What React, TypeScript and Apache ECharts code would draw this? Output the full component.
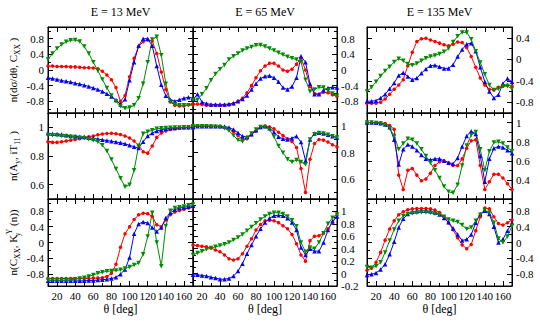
import React, { useEffect, useRef } from 'react';
import * as echarts from 'echarts';

const THETA = [10, 15, 20, 25, 30, 35, 40, 45, 50, 55, 60, 65, 70, 75, 80, 85, 90, 95, 100, 105, 110, 115, 120, 125, 130, 135, 140, 145, 150, 155, 160, 165, 170];

// Row 1: n(dσ/dθ, Cxx)
const R1C1_RED = [0.10, 0.10, 0.09, 0.09, 0.09, 0.08, 0.08, 0.07, 0.06, 0.06, 0.05, 0.03, -0.03, -0.13, -0.25, -0.45, -0.8, -0.65, -0.17, 0.3, 0.6, 0.72, 0.77, 0.74, 0.42, -0.05, -0.5, -0.82, -0.9, -0.92, -0.92, -0.89, -0.87];
const R1C1_BLUE = [-0.2, -0.22, -0.24, -0.27, -0.29, -0.31, -0.34, -0.36, -0.39, -0.42, -0.46, -0.5, -0.55, -0.61, -0.68, -0.77, -0.88, -0.75, -0.26, 0.2, 0.62, 0.8, 0.8, 0.62, 0.1, -0.38, -0.66, -0.76, -0.8, -0.76, -0.72, -0.7, -0.72];
const R1C1_GREEN = [0.27, 0.42, 0.55, 0.65, 0.72, 0.76, 0.77, 0.73, 0.6, 0.42, 0.2, -0.02, -0.24, -0.46, -0.65, -0.8, -0.93, -0.98, -0.96, -0.9, -0.72, -0.35, 0.2, 0.78, 0.85, 0.38, -0.35, -0.8, -0.88, -0.9, -0.9, -0.9, -0.9];

const R1C2_RED = [-0.88, -0.87, -0.88, -0.9, -0.9, -0.9, -0.9, -0.9, -0.89, -0.86, -0.8, -0.72, -0.58, -0.4, -0.2, -0.02, 0.1, 0.17, 0.17, 0.1, 0.0, -0.03, 0.02, 0.15, 0.3, 0.0, -0.42, -0.6, -0.62, -0.57, -0.58, -0.63, -0.68];
const R1C2_BLUE = [-0.75, -0.62, -0.82, -0.86, -0.88, -0.88, -0.88, -0.88, -0.87, -0.85, -0.8, -0.74, -0.65, -0.5, -0.35, -0.22, -0.16, -0.15, -0.2, -0.3, -0.45, -0.5, -0.42, -0.2, 0.35, 0.2, -0.35, -0.62, -0.62, -0.52, -0.46, -0.44, -0.45];
const R1C2_GREEN = [-0.77, -0.76, -0.62, -0.47, -0.26, -0.1, 0.02, 0.13, 0.27, 0.35, 0.42, 0.5, 0.55, 0.59, 0.63, 0.64, 0.6, 0.55, 0.5, 0.44, 0.39, 0.34, 0.3, 0.27, 0.21, -0.25, -0.55, -0.5, -0.44, -0.45, -0.52, -0.6, -0.66];

const R1C3_RED = [-0.82, -0.82, -0.82, -0.8, -0.74, -0.65, -0.56, -0.48, -0.38, -0.12, 0.13, 0.33, 0.38, 0.39, 0.36, 0.33, 0.3, 0.27, 0.25, 0.28, 0.32, 0.31, 0.22, 0.05, -0.15, -0.35, -0.48, -0.56, -0.57, -0.52, -0.5, -0.48, -0.5];
const R1C3_BLUE = [-0.78, -0.78, -0.77, -0.72, -0.65, -0.55, -0.44, -0.3, -0.25, -0.32, -0.38, -0.35, -0.26, -0.18, -0.12, -0.11, -0.14, -0.17, -0.17, -0.1, 0.05, 0.18, 0.28, 0.3, 0.15, -0.15, -0.42, -0.6, -0.72, -0.66, -0.45, -0.36, -0.42];
const R1C3_GREEN = [-0.6, -0.52, -0.42, -0.31, -0.22, -0.14, -0.05, 0.01, -0.03, -0.09, -0.11, -0.08, -0.03, 0.02, 0.05, 0.07, 0.1, 0.14, 0.2, 0.32, 0.43, 0.5, 0.5, 0.37, 0.15, -0.06, -0.28, -0.48, -0.57, -0.55, -0.5, -0.5, -0.55];

// Row 2: n(Ay, iT11)
const R2C1_RED = [0.9, 0.895, 0.895, 0.9, 0.905, 0.91, 0.915, 0.92, 0.93, 0.935, 0.94, 0.948, 0.953, 0.957, 0.958, 0.955, 0.95, 0.94, 0.925, 0.905, 0.875, 0.83, 0.82, 0.87, 0.93, 0.96, 0.975, 0.985, 0.99, 0.995, 0.997, 0.998, 0.998];
const R2C1_BLUE = [0.958, 0.955, 0.953, 0.95, 0.945, 0.94, 0.937, 0.935, 0.932, 0.928, 0.923, 0.918, 0.913, 0.908, 0.903, 0.898, 0.892, 0.885, 0.875, 0.865, 0.855, 0.9, 0.94, 0.96, 0.975, 0.983, 0.99, 0.993, 0.996, 0.998, 1.0, 1.0, 1.0];
const R2C1_GREEN = [0.947, 0.945, 0.943, 0.94, 0.937, 0.935, 0.932, 0.928, 0.923, 0.917, 0.91, 0.9, 0.875, 0.835, 0.775, 0.71, 0.645, 0.585, 0.6, 0.7, 0.87, 0.955, 0.97, 0.98, 0.99, 0.993, 0.995, 0.997, 0.998, 0.999, 1.0, 1.0, 1.0];

const R2C2_RED = [1.0, 1.0, 1.0, 1.0, 1.0, 1.0, 0.998, 0.99, 0.98, 0.96, 0.93, 0.9, 0.905, 0.935, 0.965, 0.99, 1.0, 0.995, 0.98, 0.955, 0.93, 0.905, 0.885, 0.84, 0.68, 0.5, 0.75, 0.87, 0.9, 0.895, 0.88, 0.86, 0.845];
const R2C2_BLUE = [1.0, 1.0, 1.0, 1.0, 1.0, 1.0, 1.0, 0.998, 0.99, 0.975, 0.95, 0.925, 0.92, 0.94, 0.97, 0.995, 1.0, 0.985, 0.955, 0.92, 0.905, 0.9, 0.91, 0.925, 0.88, 0.74, 0.9, 0.945, 0.95, 0.945, 0.935, 0.925, 0.915];
const R2C2_GREEN = [1.0, 1.0, 1.0, 1.0, 0.998, 0.997, 0.995, 0.985, 0.965, 0.93, 0.895, 0.885, 0.91, 0.945, 0.975, 0.995, 0.995, 0.975, 0.92, 0.85, 0.8, 0.75, 0.73, 0.745, 0.73, 0.71, 0.9, 0.94, 0.948, 0.945, 0.935, 0.925, 0.915];

const R2C3_RED = [1.0, 1.0, 0.998, 0.995, 0.99, 0.97, 0.93, 0.45, 0.3, 0.5, 0.52, 0.45, 0.39, 0.41, 0.47, 0.55, 0.59, 0.6, 0.58, 0.55, 0.55, 0.62, 0.73, 0.81, 0.82, 0.55, 0.3, 0.38, 0.46, 0.46, 0.42, 0.36, 0.3];
const R2C3_BLUE = [1.0, 1.0, 0.998, 0.993, 0.98, 0.95, 0.82, 0.56, 0.72, 0.77, 0.75, 0.71, 0.66, 0.62, 0.61, 0.62, 0.62, 0.6, 0.58, 0.57, 0.63, 0.75, 0.86, 0.91, 0.88, 0.65, 0.38, 0.62, 0.73, 0.75, 0.74, 0.71, 0.68];
const R2C3_GREEN = [1.0, 1.0, 0.995, 0.99, 0.975, 0.94, 0.86, 0.72, 0.78, 0.83, 0.82, 0.78, 0.72, 0.65, 0.58, 0.5, 0.42, 0.33, 0.275, 0.265, 0.35, 0.55, 0.76, 0.87, 0.9, 0.72, 0.5, 0.7, 0.79, 0.8, 0.78, 0.74, 0.7];

// Row 3: n(Cxx, Ky^Y(n))
const R3C1_RED = [-0.91, -0.91, -0.91, -0.91, -0.91, -0.91, -0.91, -0.91, -0.91, -0.91, -0.9, -0.9, -0.89, -0.86, -0.78, -0.55, -0.12, 0.22, 0.4, 0.58, 0.7, 0.74, 0.73, 0.66, 0.45, 0.4, 0.57, 0.7, 0.77, 0.81, 0.84, 0.87, 0.9];
const R3C1_BLUE = [-0.97, -0.97, -0.97, -0.97, -0.97, -0.97, -0.97, -0.97, -0.97, -0.96, -0.96, -0.95, -0.94, -0.93, -0.91, -0.88, -0.8, -0.68, -0.38, 0.22, 0.47, 0.52, 0.49, 0.38, 0.28, 0.38, 0.62, 0.75, 0.83, 0.87, 0.89, 0.91, 0.93];
const R3C1_GREEN = [-0.95, -0.95, -0.95, -0.95, -0.95, -0.94, -0.93, -0.91, -0.89, -0.86, -0.82, -0.78, -0.75, -0.73, -0.72, -0.71, -0.69, -0.66, -0.62, -0.57, -0.52, -0.3, 0.15, 0.75, 0.0, -0.6, 0.42, 0.8, 0.87, 0.89, 0.91, 0.94, 0.96];

const R3C2_RED = [0.46, 0.45, 0.44, 0.43, 0.41, 0.38, 0.35, 0.3, 0.24, 0.22, 0.24, 0.32, 0.44, 0.56, 0.7, 0.79, 0.85, 0.86, 0.85, 0.82, 0.77, 0.72, 0.63, 0.48, 0.3, 0.2, 0.53, 0.6, 0.61, 0.65, 0.72, 0.82, 0.94];
const R3C2_BLUE = [-0.02, -0.02, -0.03, -0.04, -0.06, -0.07, -0.09, -0.09, -0.08, -0.04, 0.04, 0.16, 0.32, 0.46, 0.6, 0.72, 0.82, 0.89, 0.93, 0.94, 0.93, 0.89, 0.82, 0.7, 0.42, 0.3, 0.4, 0.36, 0.36, 0.5, 0.7, 0.84, 0.92];
const R3C2_GREEN = [0.3, 0.33, 0.36, 0.39, 0.41, 0.43, 0.45, 0.47, 0.5, 0.54, 0.58, 0.63, 0.69, 0.75, 0.81, 0.87, 0.92, 0.96, 0.98, 0.98, 0.96, 0.92, 0.86, 0.76, 0.5, 0.35, 0.42, 0.4, 0.5, 0.65, 0.8, 0.9, 0.95];

const R3C3_RED = [-0.7, -0.65, -0.5, -0.25, 0.06, 0.34, 0.55, 0.7, 0.78, 0.83, 0.85, 0.86, 0.86, 0.86, 0.85, 0.82, 0.76, 0.65, 0.5, 0.32, 0.12, -0.06, -0.16, -0.05, 0.3, 0.65, 0.87, 0.85, 0.65, 0.48, 0.44, 0.5, 0.57];
const R3C3_BLUE = [-0.82, -0.8, -0.77, -0.68, -0.55, -0.3, 0.02, 0.38, 0.6, 0.72, 0.77, 0.79, 0.8, 0.8, 0.79, 0.76, 0.71, 0.62, 0.51, 0.36, 0.2, 0.05, 0.08, 0.2, 0.5, 0.72, 0.8, 0.72, 0.4, 0.0, 0.08, 0.3, 0.5];
const R3C3_GREEN = [-0.62, -0.64, -0.6, -0.5, -0.25, 0.05, 0.33, 0.55, 0.67, 0.72, 0.74, 0.75, 0.76, 0.76, 0.75, 0.73, 0.7, 0.65, 0.58, 0.55, 0.52, 0.44, 0.34, 0.38, 0.55, 0.7, 0.82, 0.75, 0.5, 0.1, 0.0, 0.15, 0.42];

// Tick labels / tick positions
const X_LABELS = [20, 40, 60, 80, 100, 120, 140, 160];
const X_MINOR = [10, 30, 50, 70, 90, 110, 130, 150, 170];
const Y_LABELS_WIDE = [-0.8, -0.4, 0, 0.4, 0.8];
const Y_MINOR_WIDE = [-1.0, -0.6, -0.2, 0.2, 0.6, 1.0];
const Y_LABELS_R1C3 = [-0.8, -0.4, 0, 0.4];
const Y_MINOR_R1C3 = [-1.0, -0.6, -0.2, 0.2, 0.6];
const Y_LABELS_R2 = [0.6, 0.8, 1];
const Y_MINOR_R2C1 = [0.5, 0.7, 0.9, 1.1];
const Y_MINOR_R2C2 = [0.5, 0.7, 0.9, 1.1];
const Y_LABELS_R2C3 = [0.4, 0.6, 0.8, 1];
const Y_MINOR_R2C3 = [0.3, 0.5, 0.7, 0.9, 1.1];
const Y_LABELS_R3C2 = [-0.2, 0, 0.2, 0.4, 0.6, 0.8, 1];
const Y_MINOR_R3C2 = [-0.1, 0.1, 0.3, 0.5, 0.7, 0.9, 1.1];

const TITLES = ['E = 13 MeV', 'E = 65 MeV', 'E = 135 MeV'];
const Y_NAMES = [
  '{n|n(dσ/dθ, C}{s|XX}{n| )}',
  '{n|n(A}{s|y}{n|, iT}{s|11}{n| )}',
  '{n|n(C}{s|XX}{n|, K}{z|y}{p|Y}{n| (n))}',
];

// panel descriptors: [red, blue, green, yMin, yMax, labels, minorTicks]
const PANELS: any[] = [
  [R1C1_RED, R1C1_BLUE, R1C1_GREEN, -1.1, 1.1, Y_LABELS_WIDE, Y_MINOR_WIDE],
  [R1C2_RED, R1C2_BLUE, R1C2_GREEN, -1.1, 1.1, Y_LABELS_WIDE, Y_MINOR_WIDE],
  [R1C3_RED, R1C3_BLUE, R1C3_GREEN, -1.0, 0.6, Y_LABELS_R1C3, Y_MINOR_R1C3],
  [R2C1_RED, R2C1_BLUE, R2C1_GREEN, 0.5, 1.1, Y_LABELS_R2, Y_MINOR_R2C1],
  [R2C2_RED, R2C2_BLUE, R2C2_GREEN, 0.45, 1.1, Y_LABELS_R2, Y_MINOR_R2C2],
  [R2C3_RED, R2C3_BLUE, R2C3_GREEN, 0.2, 1.1, Y_LABELS_R2C3, Y_MINOR_R2C3],
  [R3C1_RED, R3C1_BLUE, R3C1_GREEN, -1.1, 1.1, Y_LABELS_WIDE, Y_MINOR_WIDE],
  [R3C2_RED, R3C2_BLUE, R3C2_GREEN, -0.2, 1.2, Y_LABELS_R3C2, Y_MINOR_R3C2],
  [R3C3_RED, R3C3_BLUE, R3C3_GREEN, -1.1, 1.1, Y_LABELS_WIDE, Y_MINOR_WIDE],
];

// layout (pixels)
const COL_EDGES = [[48, 193], [193, 337], [367, 512]];
const ROW_EDGES = [[27, 113], [113, 199], [199, 286]];
const FONT = 'Liberation Serif';

const SERIES_STYLE = [
  { name: 'red', color: '#ff0000', symbol: 'circle', size: 3.5, rotate: 0 },
  { name: 'blue', color: '#0000ff', symbol: 'triangle', size: 4.5, rotate: 0 },
  { name: 'green', color: '#008c00', symbol: 'triangle', size: 4.5, rotate: 180 },
];

function fmt(v: number) {
  const r = Math.round(v * 100) / 100;
  return r === 0 ? '0' : String(r);
}

function buildOption() {
  const grid: any[] = [];
  const xAxis: any[] = [];
  const yAxis: any[] = [];
  const series: any[] = [];
  const labelStyle = { fontFamily: FONT, fontSize: 11, color: '#000' };
  const tickLine = { color: '#000', width: 1 };

  for (let r = 0; r < 3; r++) {
    for (let c = 0; c < 3; c++) {
      const p = r * 3 + c;
      const [red, blue, green, yMin, yMax, labels, minorTicks] = PANELS[p];
      grid.push({
        left: COL_EDGES[c][0],
        top: ROW_EDGES[r][0],
        width: COL_EDGES[c][1] - COL_EDGES[c][0],
        height: ROW_EDGES[r][1] - ROW_EDGES[r][0],
        show: true,
        borderColor: '#000',
        borderWidth: 1,
        backgroundColor: 'transparent',
      });
      const isBottom = r === 2;
      const xBase = {
        type: 'value', gridIndex: p, min: 10, max: 170,
        splitLine: { show: false },
      };
      ['bottom', 'top'].forEach((pos, k) => {
        xAxis.push({
          ...xBase, position: pos,
          axisLine: { show: true, onZero: false, lineStyle: tickLine },
          axisTick: { show: true, inside: true, length: 5, lineStyle: tickLine, customValues: X_LABELS },
          axisLabel: {
            show: isBottom && k === 0, margin: 4, ...labelStyle,
            customValues: X_LABELS,
            formatter: (v: number) => fmt(v),
          },
          name: isBottom && k === 0 ? 'θ [deg]' : '',
          nameLocation: 'middle', nameGap: 17,
          nameTextStyle: { fontFamily: FONT, fontSize: 12, color: '#000' },
        });
        xAxis.push({
          ...xBase, position: pos,
          axisLine: { show: false, onZero: false },
          axisTick: { show: true, inside: true, length: 3, lineStyle: tickLine, customValues: X_MINOR },
          axisLabel: { show: false, customValues: X_MINOR },
        });
      });
      const labelSide = c === 0 ? 'left' : 'right';
      const otherSide = c === 0 ? 'right' : 'left';
      const yBase = {
        type: 'value', gridIndex: p, min: yMin, max: yMax,
        splitLine: { show: false },
      };
      [labelSide, otherSide].forEach((pos, k) => {
        const withName = k === 0 && c === 0;
        yAxis.push({
          ...yBase, position: pos,
          axisLine: { show: true, onZero: false, lineStyle: tickLine },
          axisTick: { show: true, inside: true, length: 5, lineStyle: tickLine, customValues: labels },
          axisLabel: {
            show: k === 0, margin: 4, ...labelStyle,
            customValues: labels,
            formatter: (v: number) => fmt(v),
          },
          name: withName ? Y_NAMES[r] : '',
          nameLocation: 'middle', nameRotate: 90, nameGap: 27,
          nameTextStyle: {
            fontFamily: FONT, fontSize: 11, color: '#000',
            rich: {
              n: { fontFamily: FONT, fontSize: 11, lineHeight: 16, color: '#000' },
              s: { fontFamily: FONT, fontSize: 7.5, lineHeight: 8, verticalAlign: 'bottom', color: '#000' },
              z: { fontFamily: FONT, fontSize: 7.5, lineHeight: 8, verticalAlign: 'bottom', color: '#000', width: 0.5 },
              p: { fontFamily: FONT, fontSize: 7.5, lineHeight: 8, verticalAlign: 'top', color: '#000' },
            },
          },
        });
        yAxis.push({
          ...yBase, position: pos,
          axisLine: { show: false, onZero: false },
          axisTick: { show: true, inside: true, length: 3, lineStyle: tickLine, customValues: minorTicks },
          axisLabel: { show: false, customValues: minorTicks },
        });
      });

      [red, blue, green].forEach((vals: number[], si: number) => {
        const st = SERIES_STYLE[si];
        series.push({
          type: 'line',
          name: st.name,
          xAxisIndex: p * 4,
          yAxisIndex: p * 4,
          data: THETA.map((t, i) => [t, vals[i]]),
          symbol: st.symbol,
          symbolSize: st.size,
          symbolRotate: st.rotate,
          showSymbol: true,
          lineStyle: { color: st.color, width: 1 },
          itemStyle: { color: st.color },
          clip: true,
          silent: true,
        });
      });
    }
  }

  const graphic = TITLES.map((t, c) => ({
    type: 'text',
    x: (COL_EDGES[c][0] + COL_EDGES[c][1]) / 2,
    y: 12,
    style: {
      text: t,
      fontFamily: FONT,
      fontSize: 12,
      fill: '#000',
      align: 'center',
      verticalAlign: 'middle',
      textAlign: 'center',
      textVerticalAlign: 'middle',
    },
  }));

  return {
    animation: false,
    backgroundColor: '#fff',
    grid,
    xAxis,
    yAxis,
    series,
    graphic,
  };
}

export default function App() {
  const ref = useRef<HTMLDivElement>(null);
  useEffect(() => {
    if (!ref.current) return;
    const chart = echarts.init(ref.current, null, { renderer: 'svg' });
    chart.setOption(buildOption() as any);
    return () => chart.dispose();
  }, []);
  return (
    <div
      ref={ref}
      style={{ position: 'fixed', left: 0, top: 0, width: 540, height: 321, background: '#fff' }}
    />
  );
}
